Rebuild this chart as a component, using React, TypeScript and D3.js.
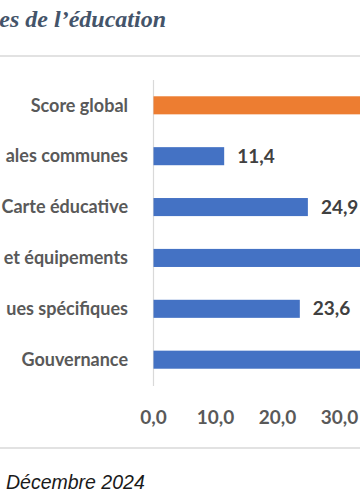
import React from "react";
import * as d3 from "d3";

const categories = [
  "Score global",
  "ales communes",
  "Carte éducative",
  "et équipements",
  "ues spécifiques",
  "Gouvernance",
];
const values = [38.5, 11.4, 24.9, 42.3, 23.6, 40.1];
const barColors = ["#ED7D31", "#4472C4", "#4472C4", "#4472C4", "#4472C4", "#4472C4"];
const ticks = [0, 10, 20, 30];
const title = "es de l’éducation";
const footnote = "Décembre 2024";

const W = 360;
const H = 504;

export default function App() {
  const x = d3.scaleLinear().domain([0, 10]).range([153.5, 215.5]);
  const y = d3
    .scaleBand<string>()
    .domain(categories)
    .range([80, 385])
    .paddingInner(0.645)
    .paddingOuter(0.32);
  const fmt = (v: number) => d3.format(".1f")(v).replace(".", ",");
  const labelFont = "Lato, 'Noto Sans', sans-serif";
  const fs = 19;
  return (
    <svg
      width={W}
      height={H}
      viewBox={`0 0 ${W} ${H}`}
      style={{ position: "fixed", left: 0, top: 0, background: "#fff" }}
    >
      <rect x={0} y={0} width={W} height={H} fill="#ffffff" />
      <text
        x={166}
        y={27}
        textAnchor="end"
        fontFamily="'Liberation Serif', 'DejaVu Serif', serif"
        fontStyle="italic"
        fontWeight="bold"
        fontSize={24}
        fill="#44546A"
      >
        {title}
      </text>
      <line x1={0} x2={W} y1={56} y2={56} stroke="#D9D9D9" strokeWidth={1.5} />
      <line x1={x(0)} x2={x(0)} y1={80} y2={386} stroke="#D9D9D9" strokeWidth={1.2} />
      {categories.map((c, i) => {
        const yy = y(c)!;
        const bw = y.bandwidth();
        const lx = x(values[i]) + 13;
        return (
          <g key={c}>
            <rect x={x(0)} y={yy} width={x(values[i]) - x(0)} height={bw} fill={barColors[i]} />
            <text
              x={128}
              y={yy + bw / 2}
              dy="0.35em"
              textAnchor="end"
              fontFamily={labelFont}
              fontWeight="bold"
              fontSize={18}
              fill="#595959"
            >
              {c}
            </text>
            {lx + 37 <= W && (
              <text
                x={lx}
                y={yy + bw / 2}
                dy="0.35em"
                fontFamily={labelFont}
                fontWeight="bold"
                fontSize={fs}
                fill="#404040"
              >
                {fmt(values[i])}
              </text>
            )}
          </g>
        );
      })}
      {ticks.map((t) => (
        <text
          key={t}
          x={x(t)}
          y={417}
          dy="0.35em"
          textAnchor="middle"
          fontFamily={labelFont}
          fontWeight="bold"
          fontSize={fs}
          fill="#595959"
        >
          {fmt(t)}
        </text>
      ))}
      <line x1={0} x2={W} y1={448} y2={448} stroke="#D9D9D9" strokeWidth={1.5} />
      <text
        x={6}
        y={489}
        fontFamily="'Liberation Sans', Arial, sans-serif"
        fontStyle="italic"
        fontSize={19.5}
        fill="#1a1a1a"
      >
        {footnote}
      </text>
    </svg>
  );
}
